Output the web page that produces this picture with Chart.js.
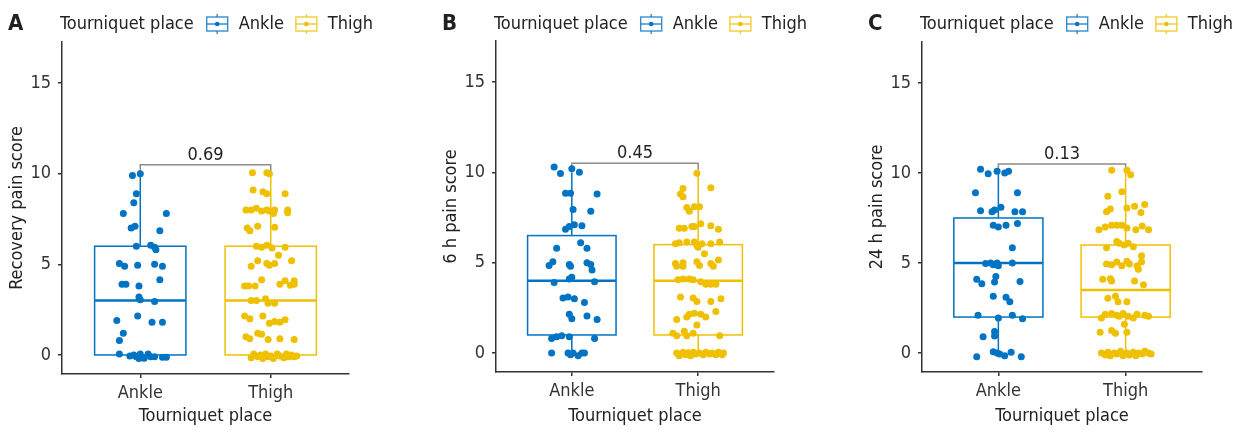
<!DOCTYPE html>
<html>
<head>
<meta charset="utf-8">
<script src="https://cdn.jsdelivr.net/npm/chart.js@4.4.0/dist/chart.umd.min.js"></script>
<style>
  body { margin: 0; background: #fff; }
  #wrap { display: flex; width: 1245px; height: 430px; }
  canvas { display: block; }
</style>
</head>
<body>
<div id="wrap">
  <canvas id="chartA" width="415" height="430"></canvas>
  <canvas id="chartB" width="415" height="430"></canvas>
  <canvas id="chartC" width="415" height="430"></canvas>
</div>
<script>
// categories and labels
const groups = ['Ankle', 'Thigh'];
const legendTitle = 'Tourniquet place';
const yTicks = [0, 5, 10, 15];
const yTitles = ['Recovery pain score', '6 h pain score', '24 h pain score'];
const pValues = ['0.69', '0.45', '0.13'];

// box stats per group: [lower whisker, q1, median, q3, upper whisker]
const boxA = [[0, 0, 3, 6, 10], [0, 0, 3, 6, 10]];
const boxB = [[0, 1, 4, 6.5, 10], [0, 1, 4, 6, 10]];
const boxC = [[0, 2, 5, 7.5, 10], [0, 2, 3.5, 6, 10]];

// jittered points: [jitter offset, score]
const ankleA = [[0.00,10.00],[-0.06,9.90],[-0.03,8.90],[-0.05,8.40],[-0.13,7.80],[0.20,7.80],[-0.07,7.00],[-0.04,7.10],[0.15,6.85],[-0.03,6.00],[0.08,6.05],[0.11,5.95],[0.12,5.80],[-0.16,5.05],[-0.12,4.90],[-0.02,4.95],[0.11,5.00],[0.17,4.90],[-0.14,3.90],[-0.11,3.90],[-0.01,3.80],[0.15,4.15],[-0.01,3.20],[0.00,3.05],[0.11,2.95],[-0.02,2.15],[-0.18,1.90],[0.09,1.80],[0.17,1.80],[-0.13,1.20],[-0.16,0.80],[-0.16,0.05],[-0.08,-0.05],[-0.05,0.00],[-0.03,-0.10],[0.00,0.05],[0.03,-0.18],[0.06,0.05],[0.08,-0.10],[0.11,-0.10],[0.17,-0.13],[0.20,-0.13],[-0.01,-0.20]];
const thighA = [[-0.14,10.05],[-0.03,10.05],[-0.01,10.00],[-0.135,9.10],[-0.06,9.00],[-0.03,8.90],[0.11,8.90],[0.13,8.00],[0.13,7.85],[-0.19,8.00],[-0.15,8.00],[-0.11,8.10],[-0.07,7.95],[-0.03,8.00],[-0.01,7.95],[0.03,8.00],[0.02,7.80],[-0.18,7.00],[-0.16,6.85],[-0.10,7.10],[0.03,7.05],[-0.11,6.00],[-0.07,5.95],[-0.03,6.05],[0.01,5.90],[0.11,5.95],[0.06,5.50],[-0.10,5.20],[-0.03,5.05],[-0.01,4.95],[0.03,5.05],[-0.15,4.90],[0.16,5.20],[-0.07,4.15],[-0.20,3.80],[-0.17,3.80],[-0.12,3.80],[0.07,3.90],[0.11,4.10],[0.15,3.85],[0.18,4.10],[0.18,3.90],[-0.15,3.00],[-0.11,3.00],[-0.04,3.10],[-0.02,2.85],[0.03,2.85],[-0.20,2.15],[-0.16,2.00],[-0.06,2.15],[-0.01,1.75],[0.03,1.85],[0.07,1.80],[0.11,1.95],[-0.19,1.00],[-0.10,1.20],[-0.07,1.15],[-0.02,0.85],[0.07,0.90],[0.18,0.85],[-0.16,0.90],[-0.15,-0.15],[-0.13,0.05],[-0.10,-0.10],[-0.08,0.00],[-0.06,-0.20],[-0.04,0.05],[-0.02,-0.10],[0.00,-0.05],[0.02,-0.20],[0.05,0.05],[0.07,-0.05],[0.10,-0.15],[0.12,0.05],[0.14,-0.10],[0.16,0.00],[0.18,-0.10],[0.20,-0.05]];

const ankleB = [[-0.14,10.30],[-0.09,9.93],[0.00,10.20],[0.06,10.00],[-0.05,8.85],[-0.01,8.85],[0.20,8.80],[0.01,7.95],[0.15,7.85],[-0.05,6.85],[-0.02,7.00],[0.02,7.10],[0.08,7.05],[-0.12,5.80],[0.07,6.10],[0.12,5.80],[-0.18,4.85],[-0.15,5.05],[-0.02,4.90],[-0.01,4.80],[0.12,5.00],[0.15,4.90],[0.16,4.60],[-0.14,3.90],[-0.02,4.10],[0.00,4.20],[0.18,3.95],[-0.07,3.05],[-0.03,3.10],[0.02,3.00],[0.10,2.80],[-0.02,2.15],[0.00,1.90],[0.12,2.05],[0.20,1.85],[-0.16,0.80],[-0.12,0.90],[-0.08,0.95],[-0.02,0.90],[0.18,0.80],[-0.16,0.00],[-0.03,0.00],[-0.01,-0.10],[0.01,0.00],[0.05,-0.15],[0.08,0.00],[0.10,0.00]];
const thighB = [[-0.01,9.95],[-0.12,9.10],[-0.14,8.80],[-0.12,8.65],[0.10,9.15],[-0.09,8.05],[-0.07,7.85],[-0.03,8.10],[0.01,8.10],[-0.15,6.90],[-0.11,6.90],[-0.05,7.00],[-0.03,7.00],[0.02,7.15],[0.10,7.05],[0.16,6.85],[-0.18,6.05],[-0.15,6.10],[-0.09,6.15],[-0.03,6.15],[-0.01,5.95],[0.03,6.05],[0.10,6.05],[0.17,6.15],[0.00,5.85],[0.05,5.50],[-0.18,4.95],[-0.17,4.80],[-0.12,5.00],[-0.12,4.80],[-0.01,5.05],[0.01,4.85],[0.10,4.95],[0.12,4.80],[0.16,5.15],[-0.16,4.05],[-0.12,4.10],[-0.07,4.10],[-0.04,4.05],[0.02,3.95],[0.06,3.80],[0.10,3.80],[0.14,3.80],[-0.14,3.10],[-0.04,3.05],[-0.01,2.85],[0.10,2.85],[0.18,3.00],[0.14,2.30],[-0.07,2.15],[-0.03,2.20],[0.02,2.15],[0.06,2.00],[-0.17,1.85],[-0.09,2.00],[-0.01,1.55],[-0.20,1.10],[-0.17,0.95],[-0.11,1.20],[-0.09,0.95],[-0.04,1.10],[0.17,0.95],[-0.17,0.00],[-0.15,-0.15],[-0.12,0.05],[-0.10,-0.10],[-0.08,0.02],[-0.06,-0.15],[-0.04,0.05],[-0.02,-0.05],[0.01,0.00],[0.04,-0.10],[0.06,0.05],[0.09,-0.05],[0.11,0.00],[0.14,-0.10],[0.16,0.05],[0.19,-0.10],[0.20,0.00]];

const ankleC = [[-0.14,10.20],[-0.08,9.95],[-0.01,10.10],[0.05,10.00],[0.08,10.10],[-0.18,8.90],[0.15,8.90],[-0.14,7.90],[-0.05,7.85],[-0.03,7.95],[0.02,8.10],[0.13,7.85],[0.19,7.85],[-0.04,7.10],[0.00,7.00],[0.06,7.10],[0.15,7.20],[0.11,5.85],[-0.10,4.97],[-0.06,5.00],[-0.04,4.90],[-0.01,5.00],[0.00,4.85],[0.11,5.00],[-0.17,4.10],[-0.13,3.85],[-0.02,4.25],[-0.03,3.95],[0.17,3.98],[-0.04,3.15],[0.06,3.10],[0.09,2.85],[-0.16,2.10],[0.00,1.95],[0.11,2.10],[0.19,1.90],[-0.03,1.20],[-0.03,0.95],[-0.12,0.90],[-0.17,-0.20],[-0.04,0.07],[-0.01,0.00],[0.01,-0.05],[0.05,-0.15],[0.10,0.05],[0.18,-0.20]];
const thighC = [[-0.11,10.15],[0.01,10.15],[0.04,9.90],[-0.03,8.95],[-0.14,8.70],[-0.15,7.85],[-0.12,8.00],[0.01,8.05],[0.07,8.15],[0.15,8.25],[0.12,7.80],[-0.21,6.85],[-0.16,7.00],[-0.11,7.10],[-0.07,7.10],[-0.03,7.10],[0.01,6.95],[0.08,6.85],[0.13,7.05],[0.18,6.85],[-0.07,6.20],[-0.05,6.10],[-0.01,6.00],[0.02,6.10],[-0.15,5.85],[0.06,5.90],[-0.15,4.95],[-0.11,4.90],[-0.07,5.05],[-0.03,4.85],[0.01,5.10],[0.03,4.95],[0.09,4.85],[0.125,5.40],[0.125,5.05],[0.10,4.65],[-0.18,4.10],[-0.12,4.12],[-0.11,4.00],[0.07,4.00],[0.14,3.80],[-0.14,3.05],[-0.08,3.15],[-0.06,2.85],[0.01,2.85],[-0.19,1.95],[-0.16,2.15],[-0.11,2.20],[-0.07,2.10],[-0.05,2.05],[-0.02,2.20],[0.02,2.05],[0.06,1.95],[0.09,2.15],[0.15,2.10],[0.18,2.05],[-0.01,1.60],[-0.20,1.15],[-0.11,1.25],[-0.08,1.10],[0.01,1.15],[-0.19,0.00],[-0.16,-0.10],[-0.14,0.05],[-0.12,-0.15],[-0.09,0.00],[-0.07,-0.05],[-0.04,0.10],[-0.02,-0.15],[0.01,0.00],[0.03,-0.10],[0.06,0.05],[0.08,-0.15],[0.10,0.00],[0.13,-0.05],[0.15,0.10],[0.18,0.00],[0.20,-0.05]];

const colors = ['#0073C2', '#EFC000'];
const family = "'DejaVu Sans Condensed', 'DejaVu Sans', sans-serif";
const boxWidth = 0.7;
const bracketY = 10.5;
const bracketLeg = 10.15;

Chart.defaults.font.family = family;
Chart.defaults.font.size = 18;

function drawIcon(ctx, x, cy, color) {
  ctx.save();
  ctx.strokeStyle = color;
  ctx.fillStyle = color;
  ctx.globalAlpha = 0.8;
  ctx.lineWidth = 1.4;
  ctx.strokeRect(x + 1, cy - 7, 21, 14);
  ctx.beginPath();
  ctx.moveTo(x + 1, cy); ctx.lineTo(x + 22, cy);
  ctx.moveTo(x + 11.5, cy - 10); ctx.lineTo(x + 11.5, cy - 7);
  ctx.moveTo(x + 11.5, cy + 7); ctx.lineTo(x + 11.5, cy + 10);
  ctx.stroke();
  ctx.globalAlpha = 1;
  ctx.beginPath();
  ctx.arc(x + 11.5, cy, 2.3, 0, Math.PI * 2);
  ctx.fill();
  ctx.restore();
}

function makePanel(id, letter, yTitle, pValue, ankle, thigh, boxes, frame) {
  const panelPlugin = {
    id: 'panel' + letter,
    beforeDatasetsDraw(chart) {
      const { ctx, scales: { x, y } } = chart;
      ctx.save();
      boxes.forEach((b, i) => {
        const cx = x.getPixelForValue(i + 1);
        const l = x.getPixelForValue(i + 1 - boxWidth / 2);
        const r = x.getPixelForValue(i + 1 + boxWidth / 2);
        const [lo, q1, med, q3, hi] = b.map(v => y.getPixelForValue(v));
        ctx.strokeStyle = colors[i];
        ctx.lineWidth = 1.5;
        ctx.beginPath();
        ctx.moveTo(cx, q3); ctx.lineTo(cx, hi);
        ctx.moveTo(cx, q1); ctx.lineTo(cx, lo);
        ctx.stroke();
        ctx.fillStyle = '#fff';
        ctx.fillRect(l, q3, r - l, q1 - q3);
        ctx.strokeRect(l, q3, r - l, q1 - q3);
        ctx.lineWidth = 2.5;
        ctx.beginPath();
        ctx.moveTo(l, med); ctx.lineTo(r, med);
        ctx.stroke();
      });
      // comparison bracket
      const x1 = x.getPixelForValue(1), x2 = x.getPixelForValue(2);
      const yb = y.getPixelForValue(bracketY), yl = y.getPixelForValue(bracketLeg);
      ctx.strokeStyle = '#8c8c8c';
      ctx.lineWidth = 1.5;
      ctx.beginPath();
      ctx.moveTo(x1, yl); ctx.lineTo(x1, yb); ctx.lineTo(x2, yb); ctx.lineTo(x2, yl);
      ctx.stroke();
      ctx.fillStyle = '#222';
      ctx.font = '18px ' + family;
      ctx.textAlign = 'center';
      ctx.textBaseline = 'alphabetic';
      ctx.fillText(pValue, (x1 + x2) / 2, yb - 5);
      ctx.restore();
    },
    afterDraw(chart) {
      const ctx = chart.ctx;
      const left = chart.chartArea.left;
      const cy = 24;
      ctx.save();
      ctx.textBaseline = 'middle';
      ctx.textAlign = 'left';
      ctx.fillStyle = '#231f20';
      ctx.font = 'bold 22px ' + family;
      ctx.fillText(letter, left - 54, cy);
      ctx.font = '18px ' + family;
      ctx.fillStyle = '#222';
      let xp = left - 2;
      ctx.fillText(legendTitle, xp, cy);
      xp += ctx.measureText(legendTitle).width + 12;
      groups.forEach((g, i) => {
        drawIcon(ctx, xp, cy, colors[i]);
        xp += 33;
        ctx.fillStyle = '#222';
        ctx.fillText(g, xp, cy);
        xp += ctx.measureText(g).width + 11;
      });
      ctx.restore();
    }
  };

  const toPoints = (arr, pos) => arr.map(([dx, v]) => ({ x: pos + dx, y: v }));

  new Chart(document.getElementById(id), {
    type: 'scatter',
    data: {
      datasets: [
        { label: groups[0], data: toPoints(ankle, 1), backgroundColor: colors[0], pointRadius: 3.5, borderWidth: 0 },
        { label: groups[1], data: toPoints(thigh, 2), backgroundColor: colors[1], pointRadius: 3.5, borderWidth: 0 }
      ]
    },
    options: {
      responsive: false,
      animation: false,
      layout: { padding: { left: frame.left, right: frame.right, top: frame.top, bottom: 0 } },
      plugins: { legend: { display: false }, tooltip: { enabled: false } },
      scales: {
        x: {
          type: 'linear', min: 0.4, max: 2.6,
          afterBuildTicks: s => { s.ticks = groups.map((g, i) => ({ value: i + 1 })); },
          afterFit: s => { s.height = frame.xHeight; },
          ticks: { callback: v => groups[v - 1], color: '#333', padding: 5, maxRotation: 0, autoSkip: false },
          grid: { drawOnChartArea: false, drawTicks: true, tickLength: 4, color: '#333', lineWidth: 1.5 },
          border: { display: true, color: '#333', width: 1.5 },
          title: { display: true, text: legendTitle, color: '#222', padding: { top: 0, bottom: 3 } }
        },
        y: {
          min: -1.05, max: 17.27,
          afterBuildTicks: s => { s.ticks = yTicks.map(v => ({ value: v })); },
          afterFit: s => { s.width = 55; },
          ticks: { color: '#333', padding: 7 },
          grid: { drawOnChartArea: false, drawTicks: true, tickLength: 4, color: '#333', lineWidth: 1.5 },
          border: { display: true, color: '#333', width: 1.5 },
          title: { display: true, text: yTitle, color: '#222', padding: { top: 0, bottom: 0 } }
        }
      }
    },
    plugins: [panelPlugin]
  });
}

makePanel('chartA', 'A', yTitles[0], pValues[0], ankleA, thighA, boxA, { left: 7, right: 66, top: 42, xHeight: 56 });
makePanel('chartB', 'B', yTitles[1], pValues[1], ankleB, thighB, boxB, { left: 26, right: 56, top: 41, xHeight: 58 });
makePanel('chartC', 'C', yTitles[2], pValues[2], ankleC, thighC, boxC, { left: 37, right: 43, top: 42, xHeight: 58 });
</script>
</body>
</html>
